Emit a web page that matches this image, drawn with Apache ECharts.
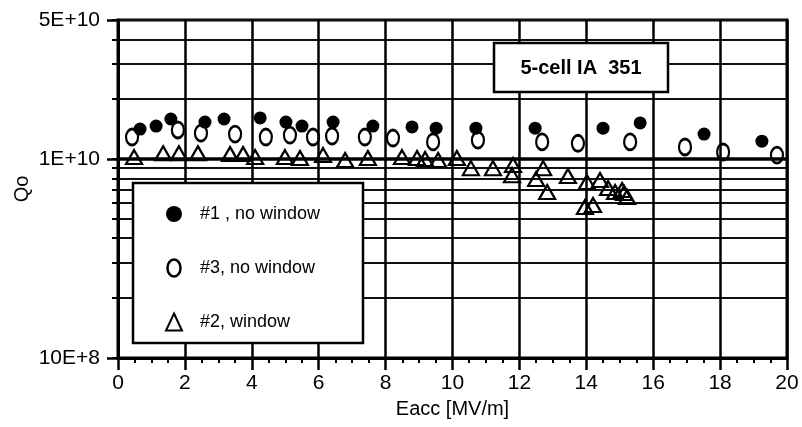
<!DOCTYPE html>
<html>
<head>
<meta charset="utf-8">
<script src="https://cdn.jsdelivr.net/npm/echarts@6/dist/echarts.min.js"></script>
<style>
  html, body { margin: 0; padding: 0; background: #fff; }
  #chart { width: 802px; height: 427px; }
</style>
</head>
<body>
<div id="chart"></div>
<script>
// Cavity #1, no window: (Eacc [MV/m], Qo)
const filledX = [0.66, 1.14, 1.58, 2.60, 3.17, 4.25, 5.02, 5.50, 6.43, 7.62, 8.79, 9.51, 10.70, 12.47, 14.50, 15.61, 17.52, 19.25];
const filledQ = [1.415e10, 1.465e10, 1.59e10, 1.535e10, 1.59e10, 1.61e10, 1.535e10, 1.465e10, 1.535e10, 1.465e10, 1.45e10, 1.43e10, 1.43e10, 1.43e10, 1.43e10, 1.52e10, 1.335e10, 1.23e10];

// Cavity #3, no window
const openX = [0.42, 1.79, 2.48, 3.50, 4.42, 5.14, 5.83, 6.40, 7.38, 8.22, 9.42, 10.76, 12.68, 13.75, 15.31, 16.95, 18.09, 19.70];
const openQ = [1.29e10, 1.40e10, 1.35e10, 1.335e10, 1.29e10, 1.32e10, 1.29e10, 1.305e10, 1.29e10, 1.275e10, 1.22e10, 1.245e10, 1.22e10, 1.20e10, 1.22e10, 1.15e10, 1.085e10, 1.047e10];

// Cavity #2, window
const triX = [0.48, 1.35, 1.82, 2.39, 3.35, 3.74, 4.10, 4.99, 5.44, 6.13, 6.79, 7.47, 8.49, 8.94, 9.18, 9.57, 10.13, 10.55, 11.21, 11.81, 11.78, 12.50, 12.71, 12.83, 13.45, 14.02, 14.41, 14.65, 14.86, 15.07, 15.13, 15.22, 13.96, 14.20];
const triQ = [1.023e10, 1.07e10, 1.07e10, 1.07e10, 1.06e10, 1.06e10, 1.023e10, 1.023e10, 1.012e10, 1.047e10, 9.89e9, 1.012e10, 1.023e10, 1.012e10, 1.0e10, 9.89e9, 1.012e10, 9.0e9, 9.0e9, 9.33e9, 8.3e9, 7.93e9, 9.0e9, 6.83e9, 8.22e9, 7.66e9, 7.84e9, 7.15e9, 6.83e9, 6.99e9, 6.75e9, 6.44e9, 5.74e9, 5.87e9];

const seriesNames = ['#1 , no window', '#3, no window', '#2, window'];

// Axis ticks and labels
const xTickStep = 2;
const yMinorTicks = [1e9, 2e9, 3e9, 4e9, 5e9, 6e9, 7e9, 8e9, 9e9, 1e10, 2e10, 3e10, 4e10, 5e10];
const yMajorTicks = [1e9, 1e10, 5e10];
const yTickLabels = { 1e9: '10E+8', 1e10: '1E+10', 5e10: '5E+10' };

const FONT = "'Liberation Sans', Arial, Helvetica, sans-serif";
const ellipsePath = 'path://M10,0 A10,13 0 1,1 10,26 A10,13 0 1,1 10,0 Z';

const pairs = (xs, ys) => xs.map((x, i) => [x, ys[i]]);

const chart = echarts.init(document.getElementById('chart'), null, { renderer: 'canvas' });

const yBase = {
  type: 'log',
  logBase: 10,
  min: 1e9,
  max: 5e10,
  gridIndex: 0
};

chart.setOption({
  animation: false,
  backgroundColor: '#fff',
  grid: {
    left: 118, right: 15, top: 20, bottom: 69,
    show: true, borderColor: '#000', borderWidth: 3, backgroundColor: 'transparent'
  },
  xAxis: {
    type: 'value',
    min: 0, max: 20, interval: xTickStep,
    name: 'Eacc [MV/m]',
    nameLocation: 'middle',
    nameGap: 41,
    nameTextStyle: { fontFamily: FONT, fontSize: 20, color: '#000' },
    axisLine: { show: true, lineStyle: { color: '#000', width: 3 } },
    axisTick: { show: true, inside: false, length: 12, lineStyle: { color: '#000', width: 2.5 } },
    minorTick: { show: true, splitNumber: 4, length: 5, lineStyle: { color: '#000', width: 2 } },
    axisLabel: { fontFamily: FONT, fontSize: 21, color: '#000', margin: 15 },
    splitLine: { show: true, lineStyle: { color: '#000', width: 2.5 } }
  },
  yAxis: [
    Object.assign({}, yBase, {
      position: 'left',
      name: 'Qo',
      nameLocation: 'middle',
      nameGap: 86,
      nameRotate: 90,
      nameTextStyle: { fontFamily: FONT, fontSize: 20, color: '#000' },
      axisLine: { show: true, lineStyle: { color: '#000', width: 3 } },
      axisTick: { show: true, inside: false, length: 6, customValues: yMinorTicks, lineStyle: { color: '#000', width: 2 } },
      axisLabel: { show: false },
      splitLine: { show: true, lineStyle: { color: '#111', width: 2 } }
    }),
    Object.assign({}, yBase, {
      position: 'left',
      axisLine: { show: false },
      axisTick: { show: true, inside: false, length: 11, customValues: yMajorTicks, lineStyle: { color: '#000', width: 2.5 } },
      axisLabel: {
        show: true, customValues: yMajorTicks, margin: 18,
        fontFamily: FONT, fontSize: 21, color: '#000',
        formatter: v => yTickLabels[Math.round(v)] || ''
      },
      splitLine: { show: false }
    })
  ],
  legend: {
    orient: 'vertical',
    left: 160, top: 199,
    z: 20,
    itemWidth: 16, itemHeight: 17,
    itemGap: 34,
    selectedMode: false,
    textStyle: { fontFamily: FONT, fontSize: 18, color: '#000', lineHeight: 20, padding: [0, 0, 0, 13] },
    data: [
      { name: seriesNames[0], icon: 'circle', itemStyle: { color: '#000', borderWidth: 0, opacity: 1 } },
      { name: seriesNames[1], icon: ellipsePath, itemStyle: { color: 'rgba(0,0,0,0)', borderColor: '#000', borderWidth: 2.5, opacity: 1 } },
      { name: seriesNames[2], icon: 'triangle', itemStyle: { color: 'rgba(0,0,0,0)', borderColor: '#000', borderWidth: 2, opacity: 1 } }
    ]
  },
  graphic: [
    {
      type: 'rect', z: 10,
      shape: { x: 133, y: 183, width: 230, height: 160 },
      style: { fill: '#fff', stroke: '#000', lineWidth: 2.5 }
    },
    {
      type: 'rect', z: 10,
      shape: { x: 494, y: 43, width: 174, height: 49 },
      style: { fill: '#fff', stroke: '#000', lineWidth: 2.5 }
    },
    {
      type: 'text', z: 11,
      x: 581, y: 68,
      style: {
        text: '5-cell IA  351', fill: '#000',
        font: "bold 20px 'Liberation Sans', Arial, sans-serif",
        align: 'center', verticalAlign: 'middle'
      }
    }
  ],
  series: [
    {
      name: seriesNames[1],
      type: 'scatter',
      yAxisIndex: 0,
      z: 3,
      symbol: ellipsePath,
      symbolSize: [12, 16],
      itemStyle: { color: 'rgba(0,0,0,0)', borderColor: '#000', borderWidth: 2.5, opacity: 1 },
      data: pairs(openX, openQ),
      markLine: {
        silent: true,
        symbol: 'none',
        label: { show: false },
        lineStyle: { color: '#000', width: 3.5, type: 'solid' },
        data: [{ yAxis: 1e10 }]
      }
    },
    {
      name: seriesNames[0],
      type: 'scatter',
      yAxisIndex: 0,
      z: 4,
      symbol: 'circle',
      symbolSize: 13,
      itemStyle: { color: '#000', opacity: 1 },
      data: pairs(filledX, filledQ)
    },
    {
      name: seriesNames[2],
      type: 'scatter',
      yAxisIndex: 0,
      z: 5,
      symbol: 'triangle',
      symbolSize: [16, 14],
      itemStyle: { color: 'rgba(0,0,0,0)', borderColor: '#000', borderWidth: 2.2, opacity: 1 },
      data: pairs(triX, triQ)
    }
  ]
});
</script>
</body>
</html>
